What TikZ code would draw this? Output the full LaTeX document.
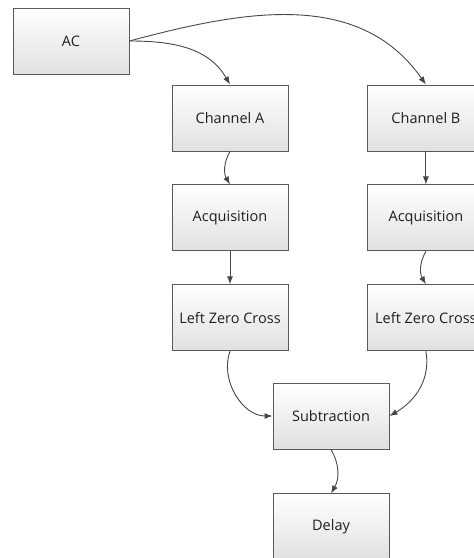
\documentclass[tikz,border=0pt]{standalone}
\usepackage{fontspec}
\setmainfont{Open Sans}
\usetikzlibrary{positioning, arrows.meta}

\tikzset{
  block/.style = {draw=black!65, line width=0.9pt, top color=white, bottom color=black!12,
                  minimum width=116pt, minimum height=66pt, inner sep=0pt,
                  text=black!88, font=\fontsize{14.5}{17}\selectfont},
  link/.style = {->, draw=black!72, line width=0.9pt}
}

\begin{document}
\begin{tikzpicture}[x=1pt, y=1pt, >={Latex[length=8pt,width=6pt]}]
\useasboundingbox (0,0) rectangle (474,558);
\clip (0,0) rectangle (474,558);
\node[block] (ac) at (71,517) {AC};
\node[block] (chA) at (230,440) {Channel A};
\node[block, right=79pt of chA] (chB) {Channel B};
\node[block, below=33pt of chA] (acqA) {Acquisition};
\node[block, below=33pt of chB] (acqB) {Acquisition};
\node[block, below=33pt of acqA] (lzcA) {Left Zero Cross};
\node[block, below=33pt of acqB] (lzcB) {Left Zero Cross};
\node[block] (sub) at (331,142) {Subtraction};
\node[block, below=44pt of sub] (delay) {Delay};
% fan out from AC
\draw[link] (ac.east) to[out=0, in=120] (chA.north);
\draw[link] (ac.east) to[out=15, in=125] (chB.north);
% the two channels
\draw[link] (chA.south) to[out=-120, in=120] (acqA.north);
\draw[link] (chB) -- (acqB);
\draw[link] (acqA) -- (lzcA);
\draw[link] (acqB.south) to[out=-120, in=120] (lzcB.north);
% join and delay
\draw[link] (lzcA.south) to[out=-110, in=180] (sub.west);
\draw[link] (lzcB.south) to[out=-80, in=30] (sub.east);
\draw[link] (sub.south) to[out=-60, in=60] (delay.north);
\end{tikzpicture}
\end{document}
